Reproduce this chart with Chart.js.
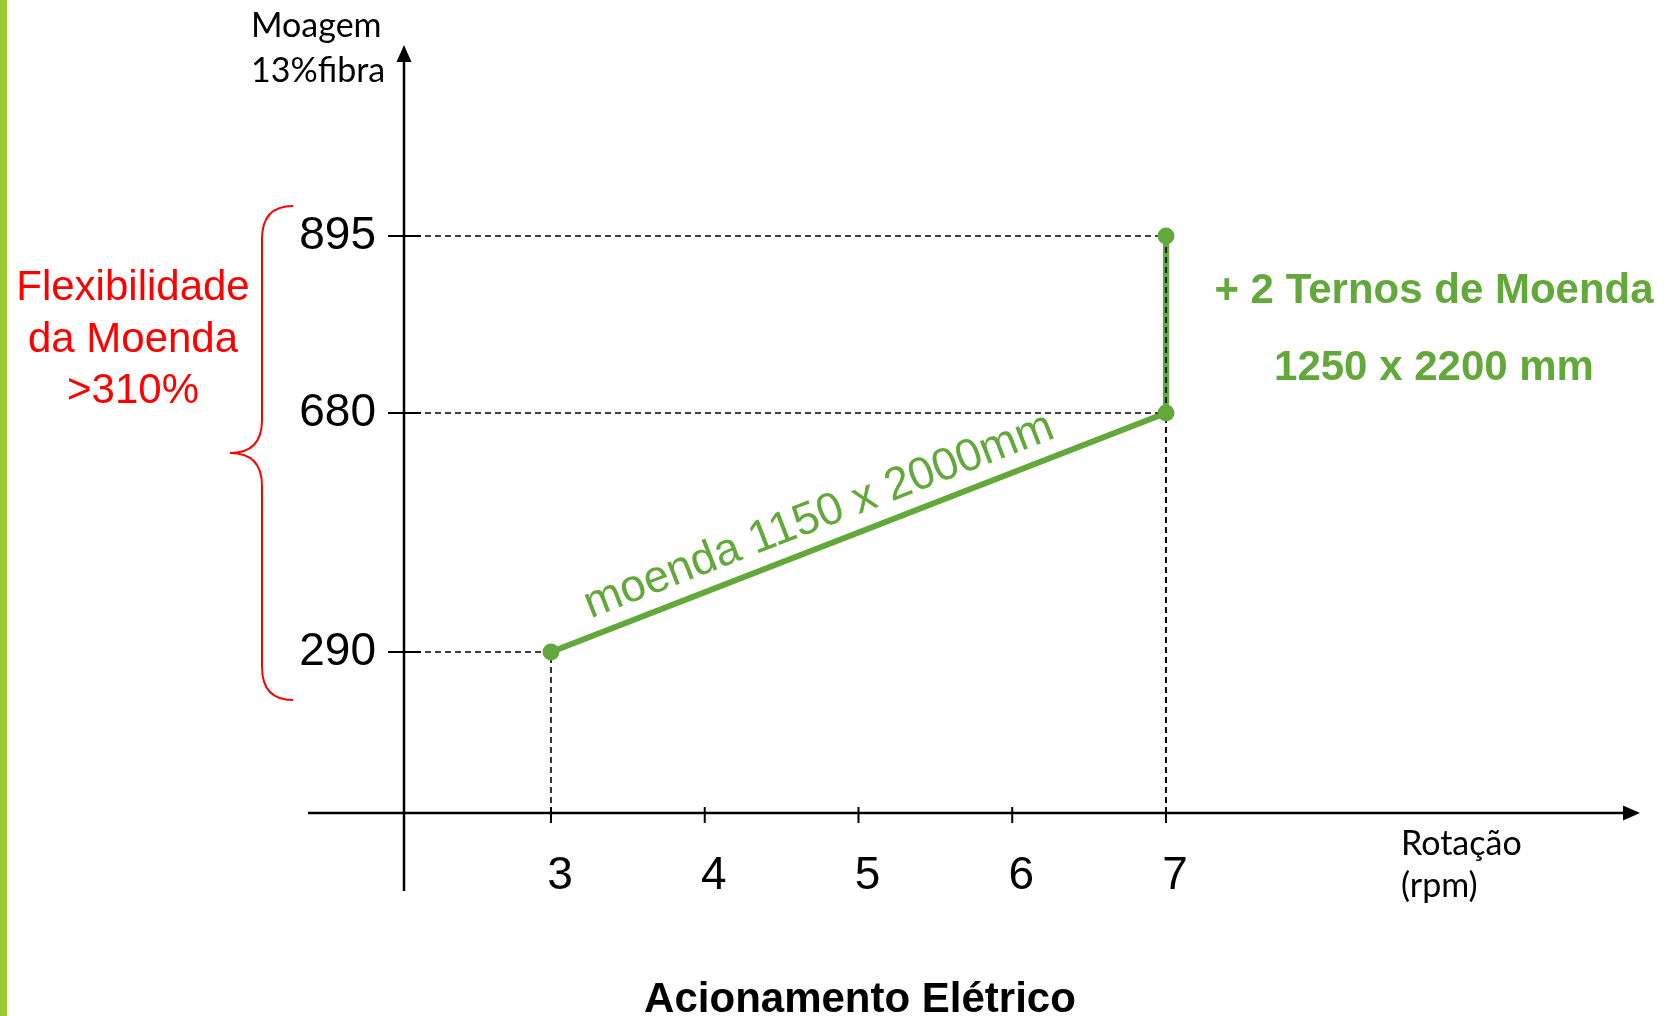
<!DOCTYPE html>
<html>
<head>
<meta charset="utf-8">
<script src="https://cdn.jsdelivr.net/npm/chart.js@4/dist/chart.umd.min.js"></script>
<style>
  html, body { margin: 0; padding: 0; background: #fff; }
  #wrap { width: 1664px; height: 1016px; }
</style>
</head>
<body>
<div id="wrap"><canvas id="c" width="1664" height="1016"></canvas></div>
<script>
// Moagem (13% fibra) x rotação da moenda (rpm) — acionamento elétrico
const rotacao = [3, 7, 7];
const moagem = [290, 680, 895];
const xTicks = [3, 4, 5, 6, 7];
const yTicks = [290, 680, 895];
const serieNome = 'moenda 1150 x 2000mm';
const ternosTexto = ['+ 2 Ternos de Moenda', '1250 x 2200 mm'];
const flexTexto = ['Flexibilidade', 'da Moenda', '>310%'];

const xRange = [2.044, 10.083];
const yRange = [0, 1130];
// schematic (non-proportional) y axis: value -> fraction of the axis height
const yStops = [[0, 0], [290, 0.2096], [680, 0.5208], [895, 0.7513], [1130, 1]];

const GREEN = '#63a83a';
const RED = '#ff0000';
const SANS = '"Liberation Sans", Arial, sans-serif';
const CAL = 'Lato, "Open Sans", sans-serif';

// linear scale with piecewise spacing between the stops
class PiecewiseScale extends Chart.LinearScale {
  _frac(v) {
    const s = yStops;
    if (v <= s[0][0]) return s[0][1];
    for (let i = 1; i < s.length; i++) {
      if (v <= s[i][0]) {
        const [v0, f0] = s[i - 1], [v1, f1] = s[i];
        return f0 + (v - v0) / (v1 - v0) * (f1 - f0);
      }
    }
    return s[s.length - 1][1];
  }
  getPixelForValue(value) {
    if (value === null || value === undefined || isNaN(value)) return NaN;
    return this.getPixelForDecimal(this._frac(value));
  }
  getValueForPixel(pixel) {
    const f = this.getDecimalForPixel(pixel);
    const s = yStops;
    for (let i = 1; i < s.length; i++) {
      if (f <= s[i][1]) {
        const [v0, f0] = s[i - 1], [v1, f1] = s[i];
        return v0 + (f - f0) / (f1 - f0) * (v1 - v0);
      }
    }
    return s[s.length - 1][0];
  }
}
PiecewiseScale.id = 'piecewise';
PiecewiseScale.defaults = {};
Chart.register(PiecewiseScale);

const pontos = rotacao.map((x, i) => ({ x: x, y: moagem[i] }));

function arrowHead(ctx, tipX, tipY, dx, dy, len, half) {
  // dx,dy: unit direction of the arrow
  const bx = tipX - dx * len, by = tipY - dy * len;
  ctx.beginPath();
  ctx.moveTo(tipX, tipY);
  ctx.lineTo(bx - dy * half, by + dx * half);
  ctx.lineTo(bx + dy * half, by - dx * half);
  ctx.closePath();
  ctx.fill();
}

const decor = {
  id: 'decor',
  beforeDraw(chart) {
    const { ctx, width, height } = chart;
    ctx.save();
    ctx.fillStyle = '#ffffff';
    ctx.fillRect(0, 0, width, height);
    ctx.fillStyle = '#99cc33';
    ctx.fillRect(0, 0, 7, height);
    ctx.restore();
  },
  beforeDatasetsDraw(chart) {
    const { ctx } = chart;
    const xa = chart.scales.x, ya = chart.scales.y;
    const ax0 = xa.left, ay0 = ya.bottom;
    ctx.save();
    ctx.strokeStyle = '#000';
    ctx.fillStyle = '#000';
    ctx.lineWidth = 2.5;
    // y axis
    ctx.beginPath();
    ctx.moveTo(ax0, ay0 + 78);
    ctx.lineTo(ax0, ya.top + 14);
    ctx.stroke();
    arrowHead(ctx, ax0, ya.top, 0, -1, 17, 7.5);
    // x axis
    ctx.beginPath();
    ctx.moveTo(ax0 - 96, ay0);
    ctx.lineTo(xa.right - 14, ay0);
    ctx.stroke();
    arrowHead(ctx, xa.right, ay0, 1, 0, 17, 7.5);
    // tick marks
    ctx.lineWidth = 2;
    xTicks.forEach(v => {
      const px = xa.getPixelForValue(v);
      ctx.beginPath();
      ctx.moveTo(px, ay0 - 6);
      ctx.lineTo(px, ay0 + 10);
      ctx.stroke();
    });
    yTicks.forEach(v => {
      const py = ya.getPixelForValue(v);
      ctx.beginPath();
      ctx.moveTo(ax0 - 16, py);
      ctx.lineTo(ax0 + 17, py);
      ctx.stroke();
    });
    ctx.restore();
  },
  afterDatasetDraw(chart, args) {
    if (args.index !== 0) return;
    // dashed reference lines from each point to both axes
    const { ctx } = chart;
    const xa = chart.scales.x, ya = chart.scales.y;
    const ax0 = xa.left, ay0 = ya.bottom;
    ctx.save();
    ctx.strokeStyle = '#000';
    ctx.lineWidth = 1.6;
    ctx.setLineDash([6, 4]);
    pontos.forEach(p => {
      const px = xa.getPixelForValue(p.x), py = ya.getPixelForValue(p.y);
      ctx.beginPath();
      ctx.moveTo(ax0 + 21, py);
      ctx.lineTo(px, py);
      ctx.stroke();
      ctx.beginPath();
      ctx.moveTo(px, ay0);
      ctx.lineTo(px, py);
      ctx.stroke();
    });
    ctx.restore();
  },
  afterDraw(chart) {
    const { ctx } = chart;
    const xa = chart.scales.x, ya = chart.scales.y;
    ctx.save();

    // axis titles
    ctx.fillStyle = '#000';
    ctx.font = '34px ' + CAL;
    ctx.textAlign = 'left';
    ctx.textBaseline = 'alphabetic';
    ctx.fillText('Moagem', 251, 37);
    ctx.fillText('13%fibra', 251, 82);
    ctx.fillText('Rotação', 1401, 855);
    ctx.fillText('(rpm)', 1401, 897);

    ctx.font = 'bold 42px ' + SANS;
    ctx.textAlign = 'center';
    ctx.fillText('Acionamento Elétrico', 860, 1012);

    // flexibility note + brace
    ctx.fillStyle = RED;
    ctx.font = '42px ' + SANS;
    ctx.fillText(flexTexto[0], 133, 300);
    ctx.fillText(flexTexto[1], 133, 352);
    ctx.fillText(flexTexto[2], 133, 403);

    const bTop = ya.getPixelForValue(yTicks[yTicks.length - 1]) - 30;
    const bBot = ya.getPixelForValue(yTicks[0]) + 48;
    const bMid = (bTop + bBot) / 2;
    const bx = 262, ex = 293, tip = 230, r = 33;
    ctx.strokeStyle = RED;
    ctx.lineWidth = 2;
    ctx.beginPath();
    ctx.moveTo(ex, bTop);
    ctx.quadraticCurveTo(bx, bTop, bx, bTop + r);
    ctx.lineTo(bx, bMid - r);
    ctx.quadraticCurveTo(bx, bMid, tip, bMid);
    ctx.quadraticCurveTo(bx, bMid, bx, bMid + r);
    ctx.lineTo(bx, bBot - r);
    ctx.quadraticCurveTo(bx, bBot, ex, bBot);
    ctx.stroke();

    // green notes
    ctx.fillStyle = GREEN;
    ctx.font = 'bold 42px ' + SANS;
    ctx.textAlign = 'center';
    ctx.fillText(ternosTexto[0], 1434, 303);
    ctx.fillText(ternosTexto[1], 1434, 380);

    // series label along the sloped segment
    const p1x = xa.getPixelForValue(rotacao[0]), p1y = ya.getPixelForValue(moagem[0]);
    const p2x = xa.getPixelForValue(rotacao[1]), p2y = ya.getPixelForValue(moagem[1]);
    const ang = Math.atan2(p2y - p1y, p2x - p1x);
    ctx.translate(p1x, p1y);
    ctx.rotate(ang);
    ctx.font = '45.5px ' + SANS;
    ctx.textAlign = 'left';
    ctx.fillText(serieNome, 49, -17);
    ctx.restore();
  }
};

new Chart(document.getElementById('c'), {
  type: 'scatter',
  data: {
    datasets: [
      {
        label: serieNome,
        data: pontos,
        showLine: true,
        borderColor: GREEN,
        borderWidth: 6,
        pointRadius: 0,
        order: 2,
        clip: false
      },
      {
        label: 'pontos',
        data: pontos,
        showLine: false,
        pointRadius: 8.5,
        pointBackgroundColor: GREEN,
        pointBorderWidth: 0,
        order: 1,
        clip: false
      }
    ]
  },
  options: {
    responsive: false,
    animation: false,
    events: [],
    layout: { autoPadding: false, padding: { left: 284, right: 24, top: 45, bottom: 83 } },
    plugins: { legend: { display: false }, tooltip: { enabled: false } },
    scales: {
      x: {
        type: 'linear',
        min: xRange[0],
        max: xRange[1],
        grid: { display: false },
        border: { display: false },
        afterBuildTicks: s => { s.ticks = xTicks.map(v => ({ value: v })); },
        afterFit: s => { s.height = 120; s.paddingLeft = 0; s.paddingRight = 0; },
        ticks: {
          font: { family: SANS, size: 46 },
          color: '#000',
          padding: 28,
          labelOffset: 9,
          maxRotation: 0,
          autoSkip: false,
          callback: v => String(v)
        }
      },
      y: {
        type: 'piecewise',
        min: yRange[0],
        max: yRange[1],
        grid: { display: false },
        border: { display: false },
        afterBuildTicks: s => { s.ticks = yTicks.map(v => ({ value: v })); },
        afterFit: s => { s.width = 120; s.paddingTop = 0; s.paddingBottom = 0; },
        ticks: {
          font: { family: SANS, size: 46 },
          color: '#000',
          padding: 20,
          autoSkip: false,
          callback: v => String(v)
        }
      }
    }
  },
  plugins: [decor]
});
</script>
</body>
</html>
